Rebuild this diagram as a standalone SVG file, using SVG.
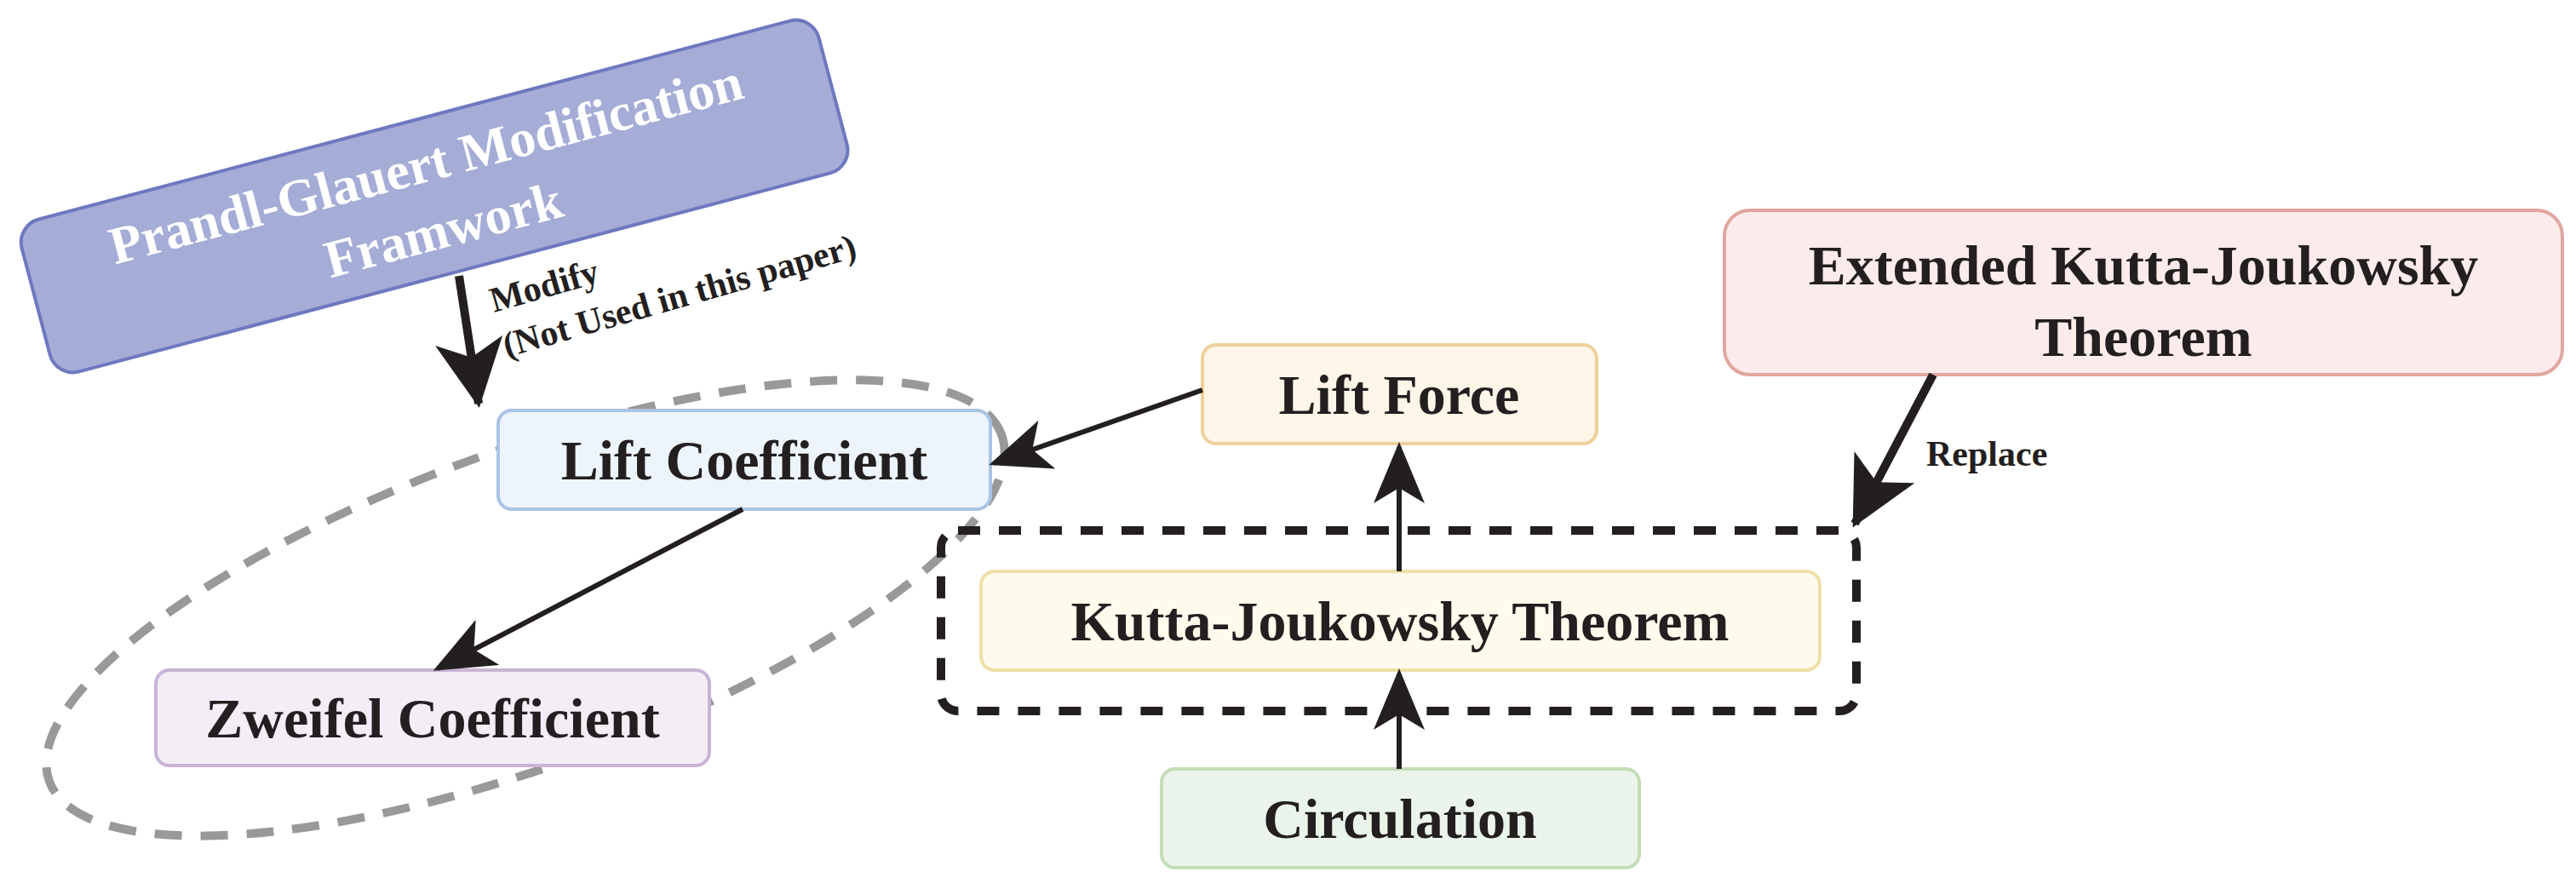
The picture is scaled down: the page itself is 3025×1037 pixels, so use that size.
<svg xmlns="http://www.w3.org/2000/svg" width="3025" height="1037" viewBox="0 0 3025 1037">
<style>
text{font-family:"Liberation Serif","Times New Roman",serif;font-weight:bold;fill:#231f20;text-anchor:middle}
.n{font-size:66px}
.e{stroke:#231f20;stroke-width:6;fill:none}
.t{stroke:#231f20;stroke-width:10;fill:none}
.lab{font-size:42px;text-anchor:start}
</style>
<defs>
<marker id="a" markerWidth="12" markerHeight="10" refX="11" refY="5" orient="auto" markerUnits="strokeWidth"><path d="M0,0 L12,5 L0,10 L3,5 Z" fill="#231f20"/></marker>
<marker id="b" markerWidth="8" markerHeight="8" refX="7.5" refY="4" orient="auto" markerUnits="strokeWidth"><path d="M0,0 L8,4 L0,8 L2,4 Z" fill="#231f20"/></marker>
</defs>
<ellipse cx="617" cy="714" rx="595" ry="185" transform="rotate(-20 617 714)" fill="none" stroke="#999" stroke-width="10" stroke-dasharray="32 22"/>
<rect x="1105" y="623" width="1075" height="212" rx="20" fill="none" stroke="#231f20" stroke-width="10" stroke-dasharray="26 22"/>
<g id="prandtl" transform="rotate(-14.8 510 230)">
<rect x="26" y="138" width="968" height="185" rx="28" fill="#a5acd6" stroke="#6e78c0" stroke-width="4"/>
<text x="510" y="212" style="font-size:62px;fill:#fff">Prandl-Glauert Modification</text>
<text x="510" y="292" style="font-size:62px;fill:#fff">Framwork</text>
</g>
<g id="liftcoef"><rect x="585" y="482" width="578" height="116" rx="16" fill="#eef4fc" stroke="#aac4e4" stroke-width="4"/><text class="n" x="874" y="563">Lift Coefficient</text></g>
<g id="zweifel"><rect x="183" y="787" width="650" height="112" rx="16" fill="#f3eef6" stroke="#c8b4d6" stroke-width="4"/><text class="n" x="508" y="866">Zweifel Coefficient</text></g>
<g id="liftforce"><rect x="1412" y="405" width="463" height="116" rx="16" fill="#fdf5e8" stroke="#eed09a" stroke-width="4"/><text class="n" x="1643" y="486">Lift Force</text></g>
<g id="kutta"><rect x="1152" y="671" width="985" height="116" rx="16" fill="#fefbec" stroke="#efe0a8" stroke-width="4"/><text class="n" x="1644" y="752">Kutta-Joukowsky Theorem</text></g>
<g id="circulation"><rect x="1364" y="903" width="561" height="116" rx="16" fill="#ebf4ea" stroke="#c4dcb8" stroke-width="4"/><text class="n" x="1644" y="984">Circulation</text></g>
<g id="extended"><rect x="2025" y="247" width="984" height="193" rx="30" fill="#fcebeb" stroke="#e0a6a0" stroke-width="4"/><text class="n" x="2517" y="334">Extended Kutta-Joukowsky</text><text class="n" x="2517" y="418">Theorem</text></g>
<g id="connectors">
<line class="t" x1="539" y1="324" x2="562" y2="474" marker-end="url(#b)"/>
<line class="e" x1="1412" y1="458" x2="1167" y2="544" marker-end="url(#a)"/>
<line class="e" x1="872" y1="598" x2="514" y2="785" marker-end="url(#a)"/>
<line class="e" x1="1643" y1="671" x2="1643" y2="525" marker-end="url(#a)"/>
<line class="e" x1="1643" y1="903" x2="1643" y2="791" marker-end="url(#a)"/>
<line class="t" x1="2270" y1="440" x2="2178" y2="615" marker-end="url(#b)"/>
<g transform="rotate(-16 580 367)"><text class="lab" x="580" y="367">Modify</text><text class="lab" x="580" y="422">(Not Used in this paper)</text></g>
<text class="lab" x="2262" y="547">Replace</text>
</g>
</svg>
